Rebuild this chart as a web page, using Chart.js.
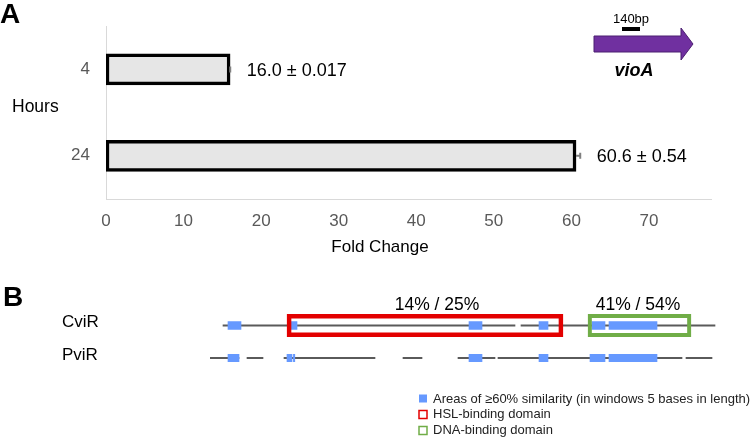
<!DOCTYPE html>
<html><head><meta charset="utf-8">
<script src="https://cdn.jsdelivr.net/npm/chart.js@4.4.1/dist/chart.umd.min.js"></script>
<style>
html,body{margin:0;padding:0;background:#fff;}
#wrap{position:relative;width:750px;height:438px;overflow:hidden;background:#fff;}
#ca{position:absolute;left:0;top:0;}
#cb{position:absolute;left:0;top:260px;}
</style></head><body>
<div id="wrap">
<canvas id="ca" width="750" height="260"></canvas>
<canvas id="cb" width="750" height="178"></canvas>
</div>
<script>
const FONT = '"Liberation Sans", Arial, Helvetica, sans-serif';

// ---------- Panel A data ----------
const hours = ['4', '24'];
const foldChange = [16.0, 60.6];
const foldError = [0.017, 0.54];
const valueLabels = ['16.0 ± 0.017', '60.6 ± 0.54'];
const foldTicks = [0, 10, 20, 30, 40, 50, 60, 70];
const foldMax = 78;

// ---------- Panel B data (alignment positions) ----------
const rows = ['CviR', 'PviR'];
const cvirSegments = [[6.5, 152.5], [155.5, 252.5]];
const pvirSegments = [[0, 14.5], [18.5, 26.5], [37, 82.5], [96.5, 106], [124, 142.5], [144, 236], [238, 251]];
const cvirBlocks = [[9, 15.5], [40.5, 43.5], [129.5, 136], [164.5, 169], [191, 197.5], [199.5, 223.5]];
const pvirBlocks = [[9, 14.5], [38.5, 41], [41.7, 42.4], [129.5, 136], [164.5, 169], [190, 197.5], [199.5, 223.5]];
const domainNames = ['HSL-binding domain', 'DNA-binding domain'];
const domainRanges = [[38.5, 176.5], [189, 240.5]];
const domainIdentity = ['14% / 25%', '41% / 54%'];
const identityLabelPos = [113.5, 214];
const similarityLabel = 'Areas of ≥60% similarity (in windows 5 bases in length)';

const BLUE = '#6699ff';
const RED = '#e30000';
const GREEN = '#70ad47';
const PURPLE = '#7030a0';

Chart.defaults.font.family = FONT;

// ---------- Panel A ----------
const panelAPlugin = {
  id: 'panelA',
  afterDatasetsDraw(chart) {
    const ctx = chart.ctx, xs = chart.scales.x;
    const meta = chart.getDatasetMeta(0);
    ctx.save();
    meta.data.forEach((bar, i) => {
      const x0 = xs.getPixelForValue(foldChange[i]);
      const x1 = xs.getPixelForValue(foldChange[i] + foldError[i]);
      const y = bar.y;
      ctx.strokeStyle = '#7f7f7f';
      ctx.lineWidth = 2;
      ctx.beginPath();
      ctx.moveTo(x0, y); ctx.lineTo(x1, y);
      ctx.moveTo(x1, y - 3); ctx.lineTo(x1, y + 3);
      ctx.stroke();
      ctx.fillStyle = '#000';
      ctx.font = '18px ' + FONT;
      ctx.textAlign = 'left';
      ctx.textBaseline = 'middle';
      ctx.fillText(valueLabels[i], x1 + 16.5, y + 1.5);
    });
    ctx.restore();
  },
  afterDraw(chart) {
    const ctx = chart.ctx;
    ctx.save();
    ctx.fillStyle = '#000';
    ctx.textBaseline = 'alphabetic';
    ctx.textAlign = 'left';
    ctx.font = 'bold 28px ' + FONT;
    ctx.fillText('A', 0, 23);
    ctx.font = '17.5px ' + FONT;
    ctx.fillText('Hours', 12, 112);
    ctx.textAlign = 'center';
    ctx.font = '17px ' + FONT;
    ctx.fillText('Fold Change', 380, 252);
    // vioA gene arrow with scale bar
    ctx.fillStyle = PURPLE;
    ctx.strokeStyle = '#4b1f70';
    ctx.lineWidth = 1;
    ctx.beginPath();
    ctx.moveTo(594, 36); ctx.lineTo(681, 36); ctx.lineTo(681, 28);
    ctx.lineTo(693, 44); ctx.lineTo(681, 60); ctx.lineTo(681, 52);
    ctx.lineTo(594, 52); ctx.closePath();
    ctx.fill(); ctx.stroke();
    ctx.fillStyle = '#000';
    ctx.fillRect(622, 27, 18, 4);
    ctx.font = '13px ' + FONT;
    ctx.fillText('140bp', 631, 23);
    ctx.font = 'italic bold 18px ' + FONT;
    ctx.fillText('vioA', 634, 76);
    ctx.restore();
  }
};

new Chart(document.getElementById('ca'), {
  type: 'bar',
  data: {
    labels: hours,
    datasets: [{
      data: foldChange,
      backgroundColor: '#e6e6e6',
      borderColor: '#000',
      borderWidth: 3.5,
      borderSkipped: false,
      barThickness: 31
    }]
  },
  options: {
    indexAxis: 'y',
    responsive: false,
    animation: false,
    events: [],
    layout: { padding: { top: 18, right: 39, bottom: 0, left: 0 } },
    plugins: { legend: { display: false }, tooltip: { enabled: false } },
    scales: {
      x: {
        type: 'linear', min: 0, max: foldMax,
        afterBuildTicks(s) { s.ticks = foldTicks.map(v => ({ value: v })); },
        ticks: { color: '#595959', font: { size: 17 }, padding: 12 },
        grid: { display: false, drawTicks: false },
        border: { display: true, color: '#d9d9d9', width: 1 },
        afterFit(s) { s.height = 61; }
      },
      y: {
        ticks: { color: '#595959', font: { size: 17 }, padding: 16 },
        grid: { display: false, drawTicks: false },
        border: { display: true, color: '#d9d9d9', width: 1 },
        afterFit(s) { s.width = 106; }
      }
    }
  },
  plugins: [panelAPlugin]
});

// ---------- Panel B ----------
function onRow(ranges, row) { return ranges.map(r => ({ x: r, y: row })); }

const panelBPlugin = {
  id: 'panelB',
  afterDraw(chart) {
    const ctx = chart.ctx, xs = chart.scales.x;
    ctx.save();
    ctx.fillStyle = '#000';
    ctx.textBaseline = 'alphabetic';
    ctx.textAlign = 'left';
    ctx.font = 'bold 28px ' + FONT;
    ctx.fillText('B', 3, 46);
    ctx.textAlign = 'center';
    ctx.font = '17.5px ' + FONT;
    identityLabelPos.forEach((p, i) => ctx.fillText(domainIdentity[i], xs.getPixelForValue(p), 50));
    // legend
    ctx.textAlign = 'left';
    ctx.font = '13px ' + FONT;
    ctx.fillStyle = BLUE;
    ctx.fillRect(419, 134.5, 8, 8);
    ctx.lineWidth = 1.5;
    ctx.strokeStyle = RED;
    ctx.strokeRect(419, 150.5, 8, 8);
    ctx.strokeStyle = GREEN;
    ctx.strokeRect(419, 166.5, 8, 8);
    ctx.fillStyle = '#222';
    ctx.fillText(similarityLabel, 433, 142.7);
    ctx.fillText(domainNames[0], 433, 158.3);
    ctx.fillText(domainNames[1], 433, 174.3);
    ctx.restore();
  }
};

new Chart(document.getElementById('cb'), {
  type: 'bar',
  data: {
    labels: rows,
    datasets: [
      {
        label: 'domains',
        data: onRow(domainRanges, 'CviR'),
        backgroundColor: 'rgba(0,0,0,0)',
        borderColor: [RED, GREEN],
        borderWidth: [4, 3.5],
        borderSkipped: false,
        barThickness: 22.5,
        grouped: false,
        order: 0
      },
      {
        label: similarityLabel,
        data: onRow(cvirBlocks, 'CviR'),
        backgroundColor: BLUE,
        borderWidth: 0,
        barThickness: 8,
        grouped: false,
        order: 1
      },
      {
        label: 'PviR similarity',
        data: onRow(pvirBlocks, 'PviR'),
        backgroundColor: BLUE,
        borderWidth: 0,
        barThickness: 7.5,
        grouped: false,
        order: 1
      },
      {
        label: 'backbone',
        data: onRow(cvirSegments, 'CviR').concat(onRow(pvirSegments, 'PviR')),
        backgroundColor: '#5a5a5a',
        borderWidth: 0,
        barThickness: 1.5,
        grouped: false,
        order: 2
      }
    ]
  },
  options: {
    indexAxis: 'y',
    responsive: false,
    animation: false,
    events: [],
    layout: { padding: { top: 49.25, right: 20, bottom: 63.75, left: 62 } },
    plugins: { legend: { display: false }, tooltip: { enabled: false } },
    scales: {
      x: { type: 'linear', min: 0, max: 260, display: false },
      y: {
        type: 'category',
        offset: true,
        grid: { display: false, drawTicks: false },
        border: { display: false },
        ticks: { color: '#000', font: { size: 17 }, crossAlign: 'far', labelOffset: -3 },
        afterFit(s) { s.width = 148; }
      }
    }
  },
  plugins: [panelBPlugin]
});
</script>
</body></html>
